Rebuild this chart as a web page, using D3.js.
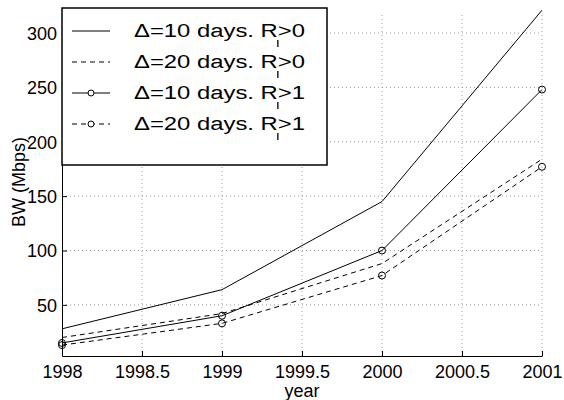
<!DOCTYPE html>
<html>
<head>
<meta charset="utf-8">
<script src="https://cdn.jsdelivr.net/npm/d3@7"></script>
<style>
    body { margin: 0; background: #fff; }
    text { font-family: "Liberation Sans", Arial, sans-serif; }
</style>
</head>
<body>
<div id="chart"></div>
<script>
// data
var years = [1998, 1999, 2000, 2001];
var bw10r0 = [28, 64, 145, 321];
var bw20r0 = [20, 42, 88, 184];
var bw10r1 = [15, 40, 100, 248];
var bw20r1 = [13, 33, 77, 177];
var legendLabels = ["\u0394=10 days. R>0", "\u0394=20 days. R>0", "\u0394=10 days. R>1", "\u0394=20 days. R>1"];
var xTicks = [1998, 1998.5, 1999, 1999.5, 2000, 2000.5, 2001];
var yTicks = [50, 100, 150, 200, 250, 300];

var series = [
    {values: bw10r0, dash: null, marker: false},
    {values: bw20r0, dash: "5,4", marker: false},
    {values: bw10r1, dash: null, marker: true},
    {values: bw20r1, dash: "5,4", marker: true}
];

var margin = {top: 8, right: 22, bottom: 44, left: 62},
    width = 564 - margin.left - margin.right,
    height = 400 - margin.top - margin.bottom;

var svg = d3.select("#chart")
    .append("svg")
    .attr("width", width + margin.left + margin.right)
    .attr("height", height + margin.top + margin.bottom)
    .append("g")
    .attr("transform", "translate(" + margin.left + "," + margin.top + ")");

var xScale = d3.scaleLinear()
    .domain([1998, 2001])
    .range([0, width]);

var yScale = d3.scaleLinear()
    .domain([3, 323])
    .range([height, 0]);

// dotted grid
svg.append("g")
    .selectAll("line")
    .data(xTicks.slice(1))
    .enter()
    .append("line")
    .attr("x1", function(d){ return xScale(d); })
    .attr("x2", function(d){ return xScale(d); })
    .attr("y1", height)
    .attr("y2", yScale(318))
    .attr("stroke", "#999")
    .attr("stroke-dasharray", "1,3");

svg.append("g")
    .selectAll("line")
    .data(yTicks)
    .enter()
    .append("line")
    .attr("x1", 0)
    .attr("x2", width)
    .attr("y1", function(d){ return yScale(d); })
    .attr("y2", function(d){ return yScale(d); })
    .attr("stroke", "#999")
    .attr("stroke-dasharray", "1,3");

// axes, matlab style ticks pointing in
var xAxis = svg.append("g")
    .attr("transform", "translate(0," + height + ")")
    .call(d3.axisBottom(xScale)
        .tickValues(xTicks)
        .tickFormat(function(d){ return d; })
        .tickSizeInner(-5)
        .tickSizeOuter(0)
        .tickPadding(9));

var yAxis = svg.append("g")
    .call(d3.axisLeft(yScale)
        .tickValues(yTicks)
        .tickSizeInner(-5)
        .tickSizeOuter(0)
        .tickPadding(5));

svg.selectAll(".tick text")
    .style("font-size", "18px")
    .attr("fill", "#000");
svg.selectAll(".domain, .tick line")
    .attr("stroke", "#000");
yAxis.selectAll(".tick text").attr("dy", "0.36em");

svg.append("text")
    .attr("x", width / 2)
    .attr("y", height + 41)
    .attr("text-anchor", "middle")
    .style("font-size", "18px")
    .text("year");

svg.append("text")
    .attr("transform", "translate(-37," + (height / 2) + ") rotate(-90)")
    .attr("text-anchor", "middle")
    .style("font-size", "18px")
    .text("BW (Mbps)");

// lines
var line = d3.line()
    .x(function(d, i){ return xScale(years[i]); })
    .y(function(d){ return yScale(d); });

series.forEach(function(s){
    svg.append("path")
        .datum(s.values)
        .attr("d", line)
        .attr("fill", "none")
        .attr("stroke", "#000")
        .attr("stroke-width", 1)
        .attr("stroke-dasharray", s.dash);

    if (s.marker) {
        svg.append("g")
            .selectAll("circle")
            .data(s.values)
            .enter()
            .append("circle")
            .attr("cx", function(d, i){ return xScale(years[i]); })
            .attr("cy", function(d){ return yScale(d); })
            .attr("r", 3.5)
            .attr("fill", "none")
            .attr("stroke", "#000");
    }
});

// legend
var legend = svg.append("g");

legend.append("rect")
    .attr("x", 0)
    .attr("y", 0)
    .attr("width", 265)
    .attr("height", 157)
    .attr("fill", "#fff")
    .attr("stroke", "#000")
    .attr("stroke-width", 1.5);

var rows = legend.selectAll(".row")
    .data(series)
    .enter()
    .append("g")
    .attr("class", "row")
    .attr("transform", function(d, i){ return "translate(0," + (23 + i * 31) + ")"; });

rows.append("line")
    .attr("x1", 10)
    .attr("x2", 48)
    .attr("y1", 0)
    .attr("y2", 0)
    .attr("stroke", "#000")
    .attr("stroke-dasharray", function(d){ return d.dash; });

rows.filter(function(d){ return d.marker; })
    .append("circle")
    .attr("cx", 29)
    .attr("cy", 0)
    .attr("r", 3)
    .attr("fill", "#fff")
    .attr("stroke", "#000");

var labelWidth = 171;

var labels = rows.append("text")
    .attr("x", 72)
    .attr("y", 6)
    .style("font-size", "18px")
    .text(function(d, i){ return legendLabels[i]; });

// little vertical marks under the R
labels.each(function(d, i){
    var txt = legendLabels[i];
    var frac = this.getSubStringLength(0, txt.indexOf("R") + 1) / this.getComputedTextLength();
    d3.select(this)
        .attr("textLength", labelWidth)
        .attr("lengthAdjust", "spacingAndGlyphs");
    var px = 72 + frac * labelWidth;
    d3.select(this.parentNode)
        .append("line")
        .attr("x1", px)
        .attr("x2", px)
        .attr("y1", 9)
        .attr("y2", 16)
        .attr("stroke", "#222")
        .attr("stroke-width", 1.5);
});
</script>
</body>
</html>
